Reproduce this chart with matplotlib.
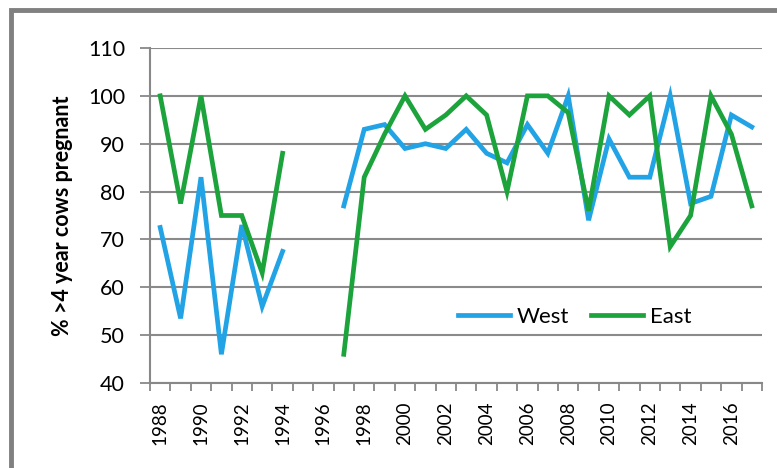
import matplotlib.pyplot as plt
import matplotlib.patches as patches
import numpy as np

years = list(range(1988, 2018))
west = [72.5, 53.5, 83, 46, 73, 56, 67.5, np.nan, np.nan, 77, 93, 94, 89, 90, 89,
        93, 88, 86, 94, 88, 100, 74, 91, 83, 83, 100, 77.5, 79, 96, 93.5]
east = [100, 77.5, 100, 75, 75, 63, 88, np.nan, np.nan, 46, 83, 92, 100, 93, 96,
        100, 96, 80, 100, 100, 96.5, 76, 100, 96, 100, 68.5, 75, 100, 92, 77]
y_ticks = [40, 50, 60, 70, 80, 90, 100, 110]

plt.rcParams['font.family'] = ['Lato', 'DejaVu Sans']

fig = plt.figure(figsize=(7.77, 4.68), dpi=100)
ax = fig.add_axes([150 / 777, 1 - 383 / 468, 612 / 777, 335 / 468])

# outer chart frame (only top and left edges show)
frame = patches.Rectangle((10.5 / 777, -0.1), 1.2, 1 - 9.5 / 468 + 0.1,
                          transform=fig.transFigure, fill=False,
                          edgecolor='#808080', linewidth=3.5, clip_on=False)
fig.patches.append(frame)

x = np.arange(len(years)) + 0.5
ax.plot(x, west, color='#21a3e6', linewidth=3.4, label='West', solid_joinstyle='miter')
ax.plot(x, east, color='#1ca33c', linewidth=3.4, label='East', solid_joinstyle='miter')

ax.set_xlim(0, len(years))
ax.set_ylim(40, 110)
ax.set_yticks(y_ticks)
ax.tick_params(axis='y', length=7, width=1.3, color='#888888', labelsize=15.5, pad=11)
ax.grid(axis='y', color='#8a8a8a', linewidth=1.5)
ax.set_axisbelow(True)

# boundary ticks between years, labels on every other year
ax.set_xticks(np.arange(len(years) + 1))
ax.set_xticklabels([])
ax.set_xticks(x[::2], minor=True)
ax.set_xticklabels([str(y) for y in years[::2]], minor=True, rotation=90)
ax.tick_params(axis='x', which='major', length=6, width=1.3, color='#888888')
ax.tick_params(axis='x', which='minor', length=0, labelsize=13.5, pad=13)

for side in ['top', 'right']:
    ax.spines[side].set_visible(False)
for side in ['left', 'bottom']:
    ax.spines[side].set_color('#888888')
    ax.spines[side].set_linewidth(1.5)

ax.set_ylabel('% >4 year cows pregnant', fontsize=15.5, fontweight='bold', labelpad=11)

ax.legend(loc='center', bbox_to_anchor=(0.694, 0.197), ncol=2, frameon=False,
          fontsize=16, handlelength=2.35, handletextpad=0.3, columnspacing=1.0)

fig.savefig('out.png', dpi=100)
